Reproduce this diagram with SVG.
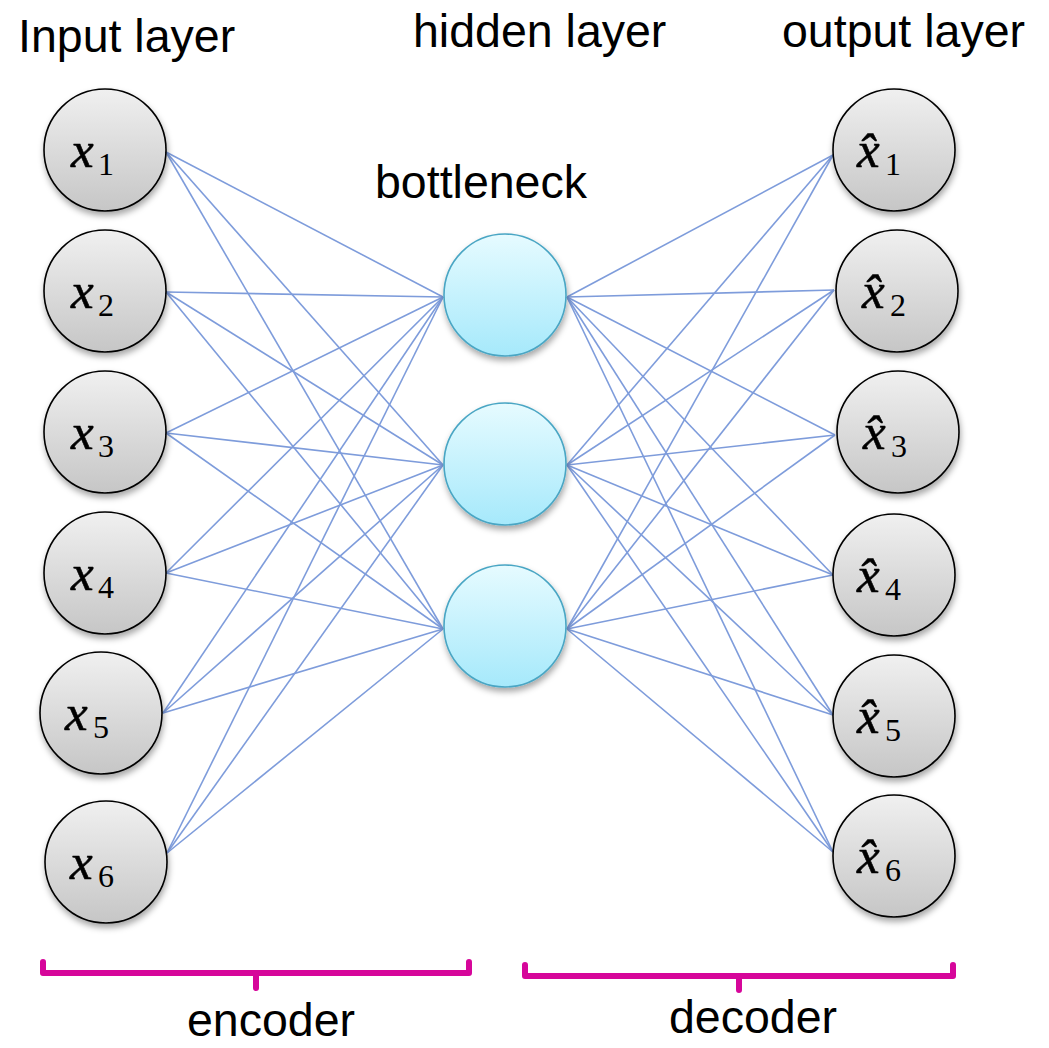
<svg xmlns="http://www.w3.org/2000/svg" width="1049" height="1048" viewBox="0 0 1049 1048">
<defs>
<linearGradient id="gGray" x1="0" y1="0" x2="0" y2="1">
<stop offset="0" stop-color="#f0f0f0"/>
<stop offset="1" stop-color="#c6c6c6"/>
</linearGradient>
<linearGradient id="gCyan" x1="0" y1="0" x2="0" y2="1">
<stop offset="0" stop-color="#e6fbff"/>
<stop offset="1" stop-color="#a6e9fb"/>
</linearGradient>
<filter id="sh" x="-20%" y="-20%" width="140%" height="150%">
<feDropShadow dx="1" dy="4" stdDeviation="3" flood-color="#000" flood-opacity="0.35"/>
</filter>
</defs>
<style>
.io{fill:url(#gGray);stroke:#000;stroke-width:1.6;filter:url(#sh)}
.bn{fill:url(#gCyan);stroke:#4aa6c4;stroke-width:1.6;filter:url(#sh)}
.edge{stroke:#7e9cdb;stroke-width:1.6;fill:none}
.title{font-family:"Liberation Sans",Arial,sans-serif;font-size:46.5px;fill:#000}
.var{font-family:"Liberation Serif","Times New Roman",serif;font-style:italic;font-size:51px;fill:#000;stroke:#000;stroke-width:0.6}
.sub{font-family:"Liberation Serif","Times New Roman",serif;font-size:32px;fill:#000}
.brace{stroke:#d6069a;stroke-width:6;fill:none;stroke-linecap:round;stroke-linejoin:round}
</style>
<rect width="1049" height="1048" fill="#fff"/>

<g id="connectors">
<g class="edge">
<line x1="166" y1="152" x2="443" y2="297"/><line x1="166" y1="152" x2="443" y2="465"/><line x1="166" y1="152" x2="443" y2="629"/>
<line x1="166" y1="292" x2="443" y2="297"/><line x1="166" y1="292" x2="443" y2="465"/><line x1="166" y1="292" x2="443" y2="629"/>
<line x1="166" y1="433" x2="443" y2="297"/><line x1="166" y1="433" x2="443" y2="465"/><line x1="166" y1="433" x2="443" y2="629"/>
<line x1="166" y1="573" x2="443" y2="297"/><line x1="166" y1="573" x2="443" y2="465"/><line x1="166" y1="573" x2="443" y2="629"/>
<line x1="163" y1="713" x2="443" y2="297"/><line x1="163" y1="713" x2="443" y2="465"/><line x1="163" y1="713" x2="443" y2="629"/>
<line x1="167" y1="853" x2="443" y2="297"/><line x1="167" y1="853" x2="443" y2="465"/><line x1="167" y1="853" x2="443" y2="629"/>
<line x1="567" y1="297" x2="833" y2="155"/><line x1="567" y1="297" x2="834" y2="290"/><line x1="567" y1="297" x2="835" y2="435"/><line x1="567" y1="297" x2="833" y2="575"/><line x1="567" y1="297" x2="833" y2="715"/><line x1="567" y1="297" x2="833" y2="852"/>
<line x1="567" y1="465" x2="833" y2="155"/><line x1="567" y1="465" x2="834" y2="290"/><line x1="567" y1="465" x2="835" y2="435"/><line x1="567" y1="465" x2="833" y2="575"/><line x1="567" y1="465" x2="833" y2="715"/><line x1="567" y1="465" x2="833" y2="852"/>
<line x1="567" y1="629" x2="833" y2="155"/><line x1="567" y1="629" x2="834" y2="290"/><line x1="567" y1="629" x2="835" y2="435"/><line x1="567" y1="629" x2="833" y2="575"/><line x1="567" y1="629" x2="833" y2="715"/><line x1="567" y1="629" x2="833" y2="852"/>
</g>
</g>

<g id="input-x1"><circle class="io" cx="105" cy="150" r="61"/><text class="var" x="71" y="167">x</text><text class="sub" x="98" y="175">1</text></g>
<g id="input-x2"><circle class="io" cx="105" cy="291" r="61"/><text class="var" x="71" y="308">x</text><text class="sub" x="98" y="316">2</text></g>
<g id="input-x3"><circle class="io" cx="105" cy="432" r="61"/><text class="var" x="71" y="449">x</text><text class="sub" x="98" y="457">3</text></g>
<g id="input-x4"><circle class="io" cx="105" cy="573" r="61"/><text class="var" x="71" y="590">x</text><text class="sub" x="98" y="598">4</text></g>
<g id="input-x5"><circle class="io" cx="101" cy="713" r="61"/><text class="var" x="65" y="730">x</text><text class="sub" x="93" y="738">5</text></g>
<g id="input-x6"><circle class="io" cx="106" cy="862" r="61"/><text class="var" x="70" y="879">x</text><text class="sub" x="98" y="887">6</text></g>

<g id="bottleneck-1"><circle class="bn" cx="505" cy="295" r="61"/></g>
<g id="bottleneck-2"><circle class="bn" cx="505" cy="464" r="61"/></g>
<g id="bottleneck-3"><circle class="bn" cx="505" cy="626" r="61"/></g>

<g id="output-x1"><circle class="io" cx="894" cy="150" r="61"/><text class="var" x="857" y="167">x̂</text><text class="sub" x="885" y="175">1</text></g>
<g id="output-x2"><circle class="io" cx="897" cy="291" r="61"/><text class="var" x="862" y="308">x̂</text><text class="sub" x="890" y="316">2</text></g>
<g id="output-x3"><circle class="io" cx="898" cy="432" r="61"/><text class="var" x="863" y="449">x̂</text><text class="sub" x="891" y="457">3</text></g>
<g id="output-x4"><circle class="io" cx="894" cy="575" r="61"/><text class="var" x="857" y="592">x̂</text><text class="sub" x="885" y="600">4</text></g>
<g id="output-x5"><circle class="io" cx="894" cy="716" r="61"/><text class="var" x="857" y="733">x̂</text><text class="sub" x="885" y="741">5</text></g>
<g id="output-x6"><circle class="io" cx="894" cy="856" r="61"/><text class="var" x="857" y="873">x̂</text><text class="sub" x="885" y="881">6</text></g>

<g id="labels">
<text class="title" x="18" y="52">Input layer</text>
<text class="title" x="413" y="47">hidden layer</text>
<text class="title" x="782" y="47">output layer</text>
<text class="title" x="375" y="198">bottleneck</text>
<text class="title" x="187" y="1036">encoder</text>
<text class="title" x="669" y="1033">decoder</text>
</g>

<g id="encoder-brace"><path class="brace" d="M43 962 V973 H469 V962 M256 973 V988"/></g>
<g id="decoder-brace"><path class="brace" d="M525 965 V976 H953 V965 M739 976 V990"/></g>
</svg>
